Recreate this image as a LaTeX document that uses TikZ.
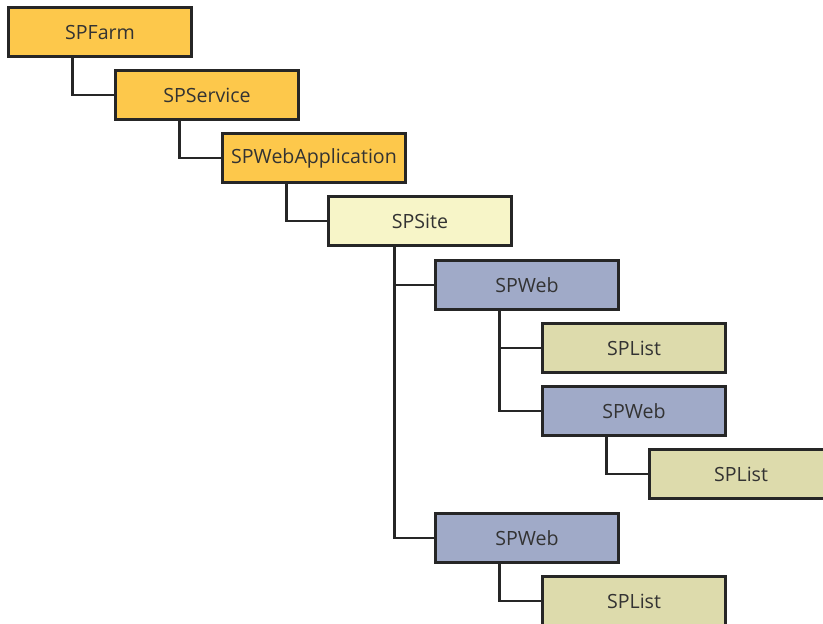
\documentclass[tikz,border=0pt]{standalone}
\usepackage{fontspec}
\setmainfont{Open Sans}

\definecolor{farmorange}{HTML}{FDC84B}
\definecolor{sitecream}{HTML}{F7F5C8}
\definecolor{webblue}{HTML}{A0AAC8}
\definecolor{listkhaki}{HTML}{DDDBAC}
\definecolor{edgegray}{HTML}{262626}

\begin{document}
\begin{tikzpicture}[x=1pt,y=-1pt,every node/.style={draw=edgegray, line width=2.3pt, minimum width=183pt, minimum height=49pt, inner sep=0pt, text=black!80, font=\fontsize{19.6}{21}\selectfont},
level/.style={fill=farmorange},site/.style={fill=sitecream},web/.style={fill=webblue},list/.style={fill=listkhaki},
link/.style={draw=edgegray, line width=2.3pt}]
\clip (0,0) rectangle (823,624);
\node[level](farm) at (100,32) {SPFarm};
\node[level](service) at (207,95) {SPService};
\node[level](webapp) at (314,158) {SPWebApplication};
\node[site](site) at (420,221) {SPSite};
\node[web](webA) at (527,285) {SPWeb};
\node[list](listA) at (634,348) {SPList};
\node[web](webB) at (634,411) {SPWeb};
\node[list](listB) at (741,474) {SPList};
\node[web](webC) at (527,538) {SPWeb};
\node[list](listC) at (634,601) {SPList};
% elbow connectors
\draw[link] ([xshift=65pt]farm.south west) |- (service.west);
\draw[link] ([xshift=65pt]service.south west) |- (webapp.west);
\draw[link] ([xshift=65pt]webapp.south west) |- (site.west);
\draw[link] ([xshift=67pt]site.south west) |- (webC.west);
\draw[link] ([xshift=67pt]site.south west |- webA.west) -- (webA.west);
\draw[link] ([xshift=65pt]webA.south west) |- (webB.west);
\draw[link] ([xshift=65pt]webA.south west |- listA.west) -- (listA.west);
\draw[link] ([xshift=65pt]webB.south west) |- (listB.west);
\draw[link] ([xshift=65pt]webC.south west) |- (listC.west);
\end{tikzpicture}
\end{document}
